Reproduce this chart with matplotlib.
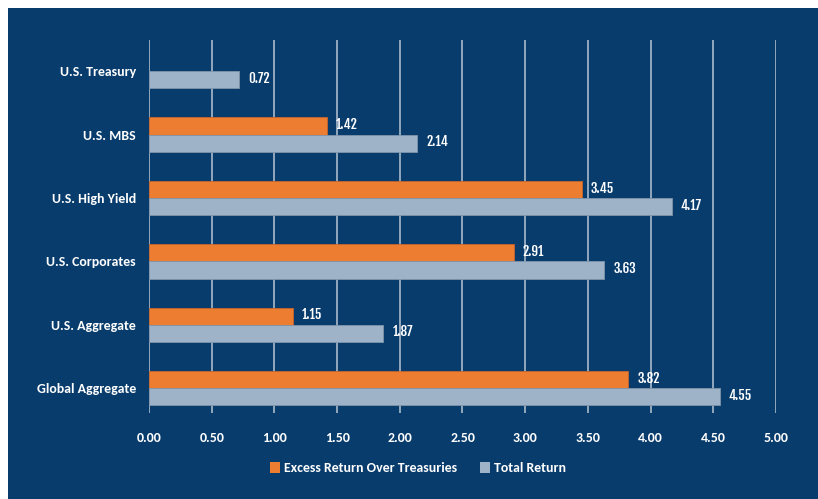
import matplotlib
matplotlib.use("Agg")
import matplotlib.pyplot as plt
from matplotlib.patches import Rectangle, Patch
import numpy as np

categories = ["U.S. Treasury", "U.S. MBS", "U.S. High Yield", "U.S. Corporates",
              "U.S. Aggregate", "Global Aggregate"]
excess_return = [None, 1.42, 3.45, 2.91, 1.15, 3.82]
total_return = [0.72, 2.14, 4.17, 3.63, 1.87, 4.55]
x_ticks = [0.0, 0.5, 1.0, 1.5, 2.0, 2.5, 3.0, 3.5, 4.0, 4.5, 5.0]
series_names = ["Excess Return Over Treasuries", "Total Return"]

NAVY = "#083C6C"
ORANGE = "#ED7D31"
GREY = "#9FB3C8"
GRID = "#A9BACB"
TEXT = "#FFFFFF"
LABEL_FONT = ["Carlito", "Open Sans", "DejaVu Sans"]
VALUE_FONT = ["Fjalla One", "Oswald", "DejaVu Sans"]

W, H = 818, 499
fig = plt.figure(figsize=(W / 100, H / 100), dpi=100, facecolor="white")
# navy panel behind the chart
fig.patches.append(Rectangle((8 / W, 0), 1 - 8 / W, 1 - 8 / H, transform=fig.transFigure,
                             facecolor=NAVY, edgecolor="none", zorder=-10))

ax = fig.add_axes([149 / W, 1 - 413 / H, (776 - 149) / W, (413 - 40) / H])
ax.set_zorder(5)
ax.set_facecolor("none")
for s in ax.spines.values():
    s.set_visible(False)

y = np.arange(len(categories))
h = 0.27
for i, v in enumerate(excess_return):
    if v is None:
        continue
    ax.barh(y[i] - h / 2, v, height=h, color=ORANGE, edgecolor="#C8652A",
            linewidth=0.6, zorder=3)
    ax.annotate(f"{v:.2f}", (v, y[i] - h / 2), xytext=(6.5, 1), textcoords="offset points",
                va="center", ha="left", color=TEXT, fontsize=9.5, fontweight="bold",
                family=VALUE_FONT)
ax.barh(y + h / 2, total_return, height=h, color=GREY, edgecolor="#7F95AB",
        linewidth=0.6, zorder=3)
for i, v in enumerate(total_return):
    ax.annotate(f"{v:.2f}", (v, y[i] + h / 2), xytext=(6.5, 1), textcoords="offset points",
                va="center", ha="left", color=TEXT, fontsize=9.5, fontweight="bold",
                family=VALUE_FONT)

ax.set_xlim(0, 5)
ax.set_ylim(5.39, -0.49)
ax.set_xticks(x_ticks)
ax.set_xticklabels([f"{t:.2f}" for t in x_ticks], color=TEXT, fontsize=10,
                   fontweight="bold", family=LABEL_FONT)
ax.set_yticks(y)
ax.set_yticklabels(categories, color=TEXT, fontsize=10, fontweight="bold", family=LABEL_FONT)
ax.tick_params(axis="both", length=0)
ax.tick_params(axis="x", pad=14)
ax.tick_params(axis="y", pad=9.4)
ax.grid(axis="x", color=GRID, linewidth=1.2, zorder=1)
ax.set_axisbelow(True)

handles = [Patch(facecolor=ORANGE, edgecolor="none"), Patch(facecolor=GREY, edgecolor="none")]
leg = fig.legend(handles, series_names, loc="center",
                 bbox_to_anchor=(418 / W, 1 - 468 / H), ncol=2, frameon=False,
                 prop={"family": LABEL_FONT, "weight": "bold", "size": 10},
                 handlelength=0.75, handleheight=0.8, handletextpad=0.3, columnspacing=1.6,
                 labelcolor=TEXT)

fig.savefig("out.png", dpi=100, facecolor="white")
